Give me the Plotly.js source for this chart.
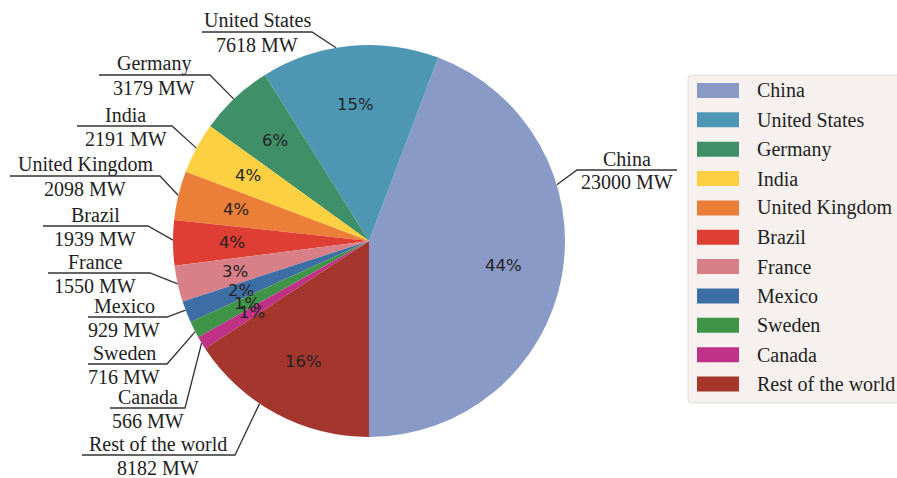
<!DOCTYPE html>
<html>
<head>
<meta charset="utf-8">
<script src="https://cdn.plot.ly/plotly-3.0.1.min.js"></script>
<style>
  html, body { margin: 0; padding: 0; background: #ffffff; }
  #chart { width: 897px; height: 478px; }
</style>
</head>
<body>
<div id="chart"></div>
<script>
// Installed wind power capacity by country (MW)
const countries = ["China", "United States", "Germany", "India", "United Kingdom",
                   "Brazil", "France", "Mexico", "Sweden", "Canada", "Rest of the world"];
const capacityMW = [23000, 7618, 3179, 2191, 2098, 1939, 1550, 929, 716, 566, 8182];
const sliceColors = ["#8a9ac6", "#4d97b4", "#3f8f68", "#fcd040", "#ec7f37",
                     "#df3e34", "#d97f88", "#3e6ea6", "#3f9447", "#bf3288", "#a4362e"];

// Callout layout per country: text centre x, underline y, underline span (px),
// side of the pie, and a turn of the leader's end along the rim (deg).
const calloutX     = [627, 257, 154, 126, 85, 95, 95, 124, 124, 148, 158];
const calloutY     = [170, 32, 75, 126, 176, 226, 273, 317, 364, 408, 455];
const calloutSpan  = [[577, 677], [202, 312], [99, 210], [77, 172], [10, 160], [43, 148],
                      [48, 150], [88, 167], [88, 167], [110, 185], [82, 235]];
const calloutRight = [true, false, false, false, false, false, false, false, false, false, false];
const leaderTurn   = [27, 4, 0.5, 0, 0, -0.8, 0, -0.6, 0.6, 0, -5.6];

const W = 897, H = 478;
const CX = 369, CY = 241, R = 196;          // pie centre and radius in px
const px = x => x / W;
const py = y => 1 - y / H;

const total = capacityMW.reduce((a, b) => a + b, 0);
// wedges run counterclockwise, the first one ending at six o'clock
const midAngles = [];
let cum = 0;
capacityMW.forEach(v => {
  midAngles.push(-90 + 360 * (cum + v / 2) / total);
  cum += v;
});
const rim = (deg, k) => {
  const t = deg * Math.PI / 180;
  return [CX + k * R * Math.cos(t), CY - k * R * Math.sin(t)];
};

const annotations = [];
const shapes = [];

// percentage labels inside the wedges
capacityMW.forEach((v, i) => {
  const [x, y] = rim(midAngles[i], 0.7);
  annotations.push({
    x: px(x), y: py(y), xref: "paper", yref: "paper",
    text: Math.round(100 * v / total) + "%", showarrow: false,
    xanchor: "center", yanchor: "middle",
    font: { family: "DejaVu Sans", size: 16.5, color: "#242424" }
  });
});

// outer callouts: name above an underline, capacity below, leader to the rim
const serif = { family: "Liberation Serif, Times New Roman, serif", size: 20, color: "#222222" };
countries.forEach((name, i) => {
  const ly = calloutY[i];
  const [x0, x1] = calloutSpan[i];
  const bend = calloutRight[i] ? x0 : x1;
  const [ex, ey] = rim(midAngles[i] + leaderTurn[i], 1.0);
  shapes.push({
    type: "path", xref: "paper", yref: "paper", layer: "below",
    path: `M${px(calloutRight[i] ? x1 : x0)},${py(ly)} L${px(bend)},${py(ly)} L${px(ex)},${py(ey)}`,
    line: { color: "#333333", width: 1.3 }
  });
  annotations.push({
    x: px(calloutX[i]), y: py(ly - 11.5), xref: "paper", yref: "paper",
    text: name, showarrow: false, xanchor: "center", yanchor: "middle", font: serif
  });
  annotations.push({
    x: px(calloutX[i]), y: py(ly + 12.5), xref: "paper", yref: "paper",
    text: capacityMW[i] + " MW", showarrow: false, xanchor: "center", yanchor: "middle", font: serif
  });
});

// legend panel on the right
const LX0 = 688, LY0 = 75, LX1 = 910, LY1 = 403, RAD = 4;
shapes.push({
  type: "path", xref: "paper", yref: "paper", layer: "above",
  path: `M${px(LX0 + RAD)},${py(LY0)} L${px(LX1)},${py(LY0)} L${px(LX1)},${py(LY1)} ` +
        `L${px(LX0 + RAD)},${py(LY1)} Q${px(LX0)},${py(LY1)} ${px(LX0)},${py(LY1 - RAD)} ` +
        `L${px(LX0)},${py(LY0 + RAD)} Q${px(LX0)},${py(LY0)} ${px(LX0 + RAD)},${py(LY0)} Z`,
  fillcolor: "#f6f1ee", line: { color: "#e2ddd9", width: 1 }
});
const rowTop = 90.5, rowStep = 29.35;
countries.forEach((name, i) => {
  const y = rowTop + i * rowStep;
  shapes.push({
    type: "rect", xref: "paper", yref: "paper", layer: "above",
    x0: px(697), x1: px(739), y0: py(y - 7.5), y1: py(y + 7.5),
    fillcolor: sliceColors[i], line: { width: 0 }
  });
  annotations.push({
    x: px(755), y: py(y), xref: "paper", yref: "paper",
    text: name, showarrow: false, xanchor: "left", yanchor: "middle", font: serif
  });
});

// Plotly's counterclockwise pies place the first wedge clockwise of `rotation`,
// so rotate by that wedge's sweep to make it end at six o'clock.
const firstSweep = 360 * capacityMW[0] / total;

const data = [{
  type: "pie",
  labels: countries,
  values: capacityMW,
  sort: false,
  direction: "counterclockwise",
  rotation: 180 - firstSweep,
  marker: { colors: sliceColors, line: { width: 0 } },
  textinfo: "none",
  hoverinfo: "skip",
  showlegend: false,
  domain: { x: [px(CX - R), px(CX + R)], y: [py(CY + R), py(CY - R)] }
}];

const layout = {
  width: W, height: H,
  margin: { l: 0, r: 0, t: 0, b: 0 },
  paper_bgcolor: "#ffffff",
  showlegend: false,
  hovermode: false,
  annotations: annotations,
  shapes: shapes
};

Plotly.newPlot("chart", data, layout, { displayModeBar: false, staticPlot: true });
</script>
</body>
</html>
